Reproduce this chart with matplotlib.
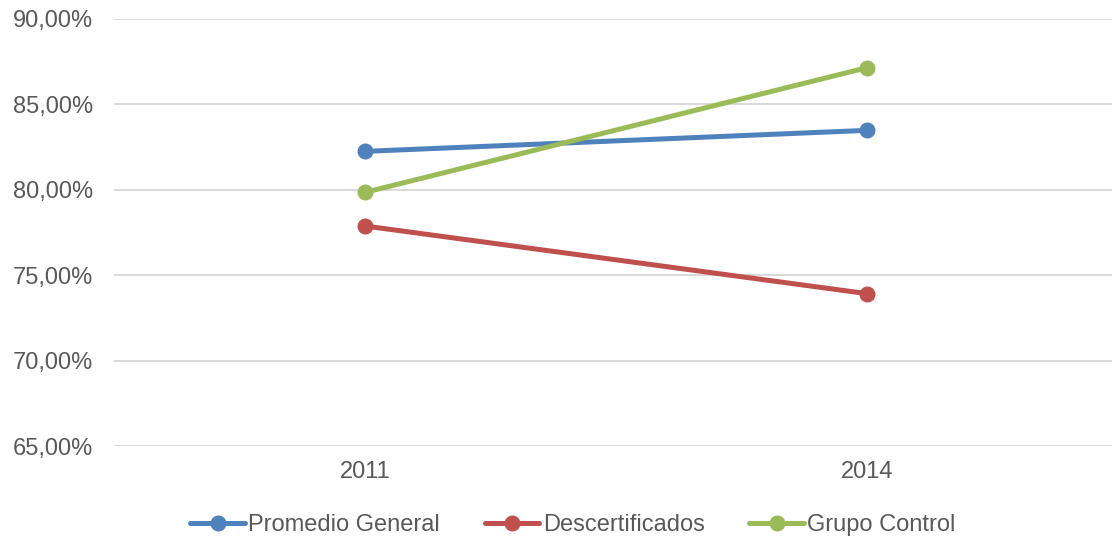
import matplotlib.pyplot as plt
from matplotlib.ticker import FuncFormatter

# data
years = ["2011", "2014"]
promedio = [82.25, 83.48]
descert = [77.88, 73.92]
control = [79.85, 87.15]

series_names = ["Promedio General", "Descertificados", "Grupo Control"]
colors = ["#4F81BD", "#C0504D", "#9BBB59"]

plt.rcParams['font.family'] = ['Liberation Sans', 'DejaVu Sans']
txt = "#595959"

fig = plt.figure(figsize=(11.12, 5.37), dpi=100)
ax = fig.add_axes([114/1112, 1-446/537, 1004/1112, (446-19)/537])

x = list(range(len(years)))
for vals, name, col in zip([promedio, descert, control], series_names, colors):
	ax.plot(x, vals, color=col, lw=3.6, marker='o', ms=10.5, label=name,
		solid_capstyle='round', zorder=3)

ax.set_xlim(-0.5, 1.5)
ax.set_ylim(65, 90)
ax.set_yticks([65, 70, 75, 80, 85, 90])
ax.yaxis.set_major_formatter(FuncFormatter(lambda v, p: ("%.2f%%" % v).replace(".", ",")))
ax.set_xticks(x)
ax.set_xticklabels(years)

ax.grid(axis='y', color='#D9D9D9', lw=1.4)
ax.set_axisbelow(True)
for s in ax.spines.values():
	s.set_visible(False)
ax.tick_params(axis='both', length=0, labelsize=17, colors=txt)
ax.tick_params(axis='y', pad=15)
ax.tick_params(axis='x', pad=11)

fig.legend(loc='center', bbox_to_anchor=(573/1112, 1-525/537), ncol=3, frameon=False,
	fontsize=17, handlelength=2.3, handletextpad=0.15, columnspacing=1.9,
	labelcolor=txt)

fig.savefig("out.png", dpi=100)
